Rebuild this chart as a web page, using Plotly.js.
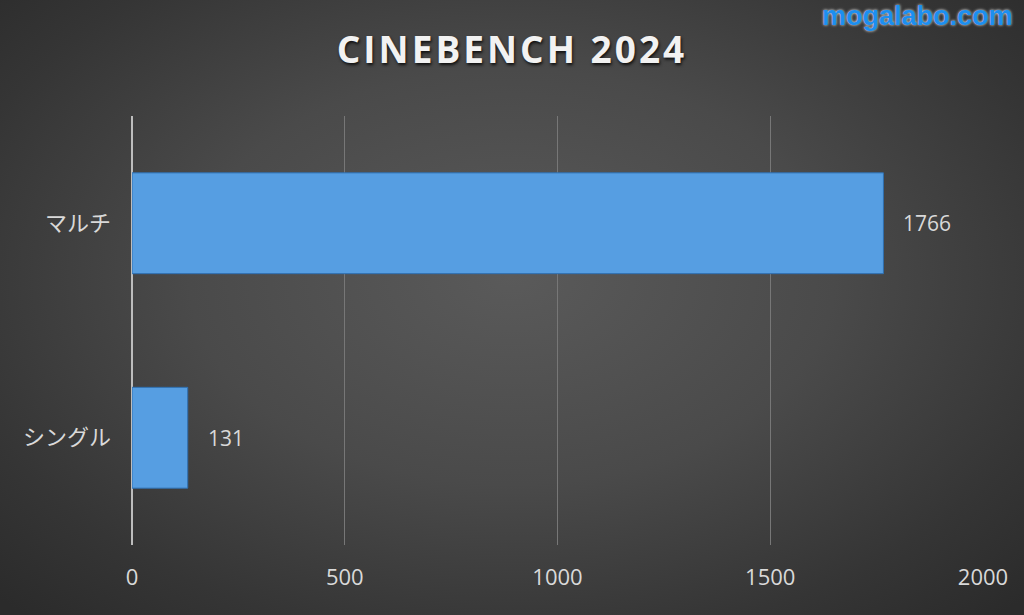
<!DOCTYPE html>
<html>
<head>
<meta charset="utf-8">
<script src="https://cdn.plot.ly/plotly-3.0.1.min.js"></script>
<style>
html, body { margin:0; padding:0; }
#chart { width:1024px; height:615px;
  background: radial-gradient(ellipse 70% 75% at 50% 45%, #5a5a5a 0%, #4a4a4a 45%, #353535 80%, #2b2b2b 100%); }
#chart .gtitle { letter-spacing: 3px; }
</style>
</head>
<body>
<div id="chart"></div>
<script>
const categories = ['マルチ', 'シングル'];
const scores = [1766, 131];
const titleText = 'CINEBENCH 2024';
const watermark = 'mogalabo.com';
const xTicks = [0, 500, 1000, 1500, 2000];

const trace = {
  type: 'bar',
  orientation: 'h',
  y: categories,
  x: scores,
  marker: { color: '#569ee2', line: { color: '#2f6fb0', width: 1 } },
  hoverinfo: 'none'
};

const annotations = categories.map((c, i) => ({
  x: scores[i], y: c, xref: 'x', yref: 'y',
  text: String(scores[i]), showarrow: false,
  xanchor: 'left', xshift: 18,
  font: { family: 'Open Sans, sans-serif', size: 21, color: '#d9d9d9' }
}));
annotations.push({
  xref: 'paper', yref: 'paper', x: 1.038, y: 1.232,
  xanchor: 'right', yanchor: 'middle',
  text: '<b>' + watermark + '</b>', showarrow: false,
  font: { family: 'Liberation Sans, Arial, sans-serif', size: 27, color: '#1c8ff0',
          shadow: '0px 0px 3px #ffffff' }
});

const layout = {
  width: 1024, height: 615,
  paper_bgcolor: 'rgba(0,0,0,0)',
  plot_bgcolor: 'rgba(0,0,0,0)',
  margin: { l: 132, r: 41, t: 116, b: 70 },
  title: {
    text: '<b>' + titleText + '</b>',
    x: 0.5, xanchor: 'center', y: 0.918, yanchor: 'middle',
    font: { family: 'Open Sans, sans-serif', size: 37, color: '#f2f2f2',
            shadow: '1px 2px 3px #111111' }
  },
  bargap: 0.53,
  showlegend: false,
  xaxis: {
    range: [0, 2000],
    tickvals: xTicks,
    ticktext: xTicks.map(String),
    showgrid: true, gridcolor: '#777777', gridwidth: 1,
    zeroline: true, zerolinecolor: '#bdbdbd', zerolinewidth: 2,
    showline: false, ticks: '',
    ticklabelstandoff: 17,
    tickfont: { family: 'Open Sans, sans-serif', size: 22, color: '#d9d9d9' },
    fixedrange: true
  },
  yaxis: {
    categoryorder: 'array',
    categoryarray: categories.slice().reverse(),
    showgrid: false, zeroline: false, showline: false, ticks: '',
    ticklabelstandoff: 20,
    tickfont: { family: 'Noto Sans CJK JP, sans-serif', size: 22, color: '#d9d9d9' },
    fixedrange: true
  },
  annotations: annotations
};

Plotly.newPlot('chart', [trace], layout, { displayModeBar: false, staticPlot: true });
</script>
</body>
</html>
